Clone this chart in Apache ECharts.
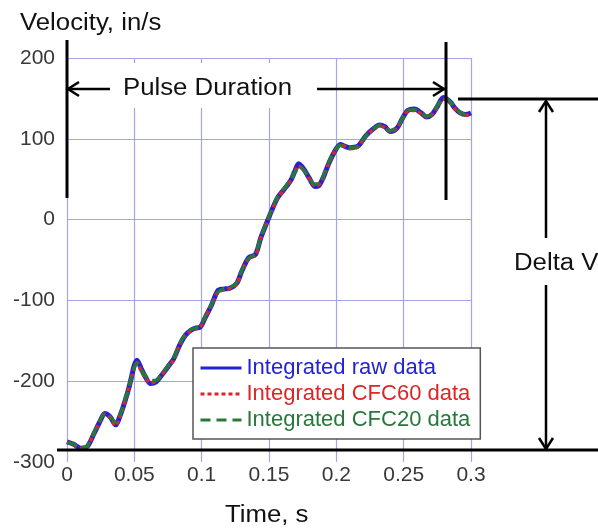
<!DOCTYPE html>
<html>
<head>
<meta charset="utf-8">
<script src="https://cdn.jsdelivr.net/npm/echarts@6/dist/echarts.min.js"></script>
<style>
 html, body { margin: 0; padding: 0; background: #fff; }
 .echart { width: 598px; height: 531px; }
</style>
</head>
<body>
<div class="echart" id="velocity-chart"></div>
<script>
// time, s
const timeS = [0, 0.005, 0.010, 0.015, 0.020, 0.025, 0.028, 0.032, 0.036, 0.040,
 0.043, 0.046, 0.048, 0.050, 0.052, 0.055, 0.058, 0.062, 0.066, 0.071,
 0.075, 0.079, 0.084, 0.088, 0.092, 0.096, 0.099, 0.103, 0.107, 0.112,
 0.116, 0.121, 0.126, 0.130, 0.135, 0.140, 0.144, 0.150, 0.156, 0.161,
 0.166, 0.169, 0.172, 0.176, 0.180, 0.184, 0.187, 0.190, 0.194, 0.198,
 0.203, 0.206, 0.210, 0.216, 0.222, 0.228, 0.232, 0.236, 0.240, 0.245,
 0.249, 0.253, 0.258, 0.263, 0.267, 0.271, 0.275, 0.2795, 0.282, 0.285,
 0.288, 0.292, 0.296, 0.300]

// velocity, in/s
const rawVel = [-275, -278, -283, -281, -265, -248, -240, -244, -254, -240,
 -225, -208, -194, -180, -174, -184, -194, -203, -201, -191,
 -182, -173, -154, -143, -137, -134, -133, -120, -107, -88,
 -86, -85, -79, -63, -47, -43, -22, 3, 26, 37,
 48, 59, 69, 62, 51, 41, 42, 51, 68, 82,
 93, 91, 89, 91, 104, 113, 117, 115, 109, 113,
 125, 135, 137, 132, 127, 130, 140, 151, 149, 145,
 138, 132, 130, 132]

const cfc60Vel = [-275, -279, -283, -281, -265, -248, -241, -245, -255, -241,
 -225, -208, -195, -183, -177, -187, -195, -202, -200, -191,
 -182, -174, -154, -143, -138, -135, -133, -120, -107, -90,
 -87, -85, -80, -63, -48, -44, -22, 3, 25, 37,
 48, 58, 66, 61, 50, 42, 43, 51, 68, 82,
 92, 91, 88, 90, 104, 112, 116, 114, 109, 113,
 125, 134, 135, 131, 127, 130, 140, 149, 148, 144,
 137, 132, 129, 131]

const cfc20Vel = [-276, -278, -282, -280, -264, -247, -240, -244, -251, -239,
 -224, -207, -194, -183, -178, -186, -193, -199, -199, -190,
 -181, -172, -153, -142, -136, -134, -132, -119, -106, -90,
 -86, -84, -78, -62, -48, -42, -21, 4, 27, 38,
 49, 58, 66, 61, 51, 44, 44, 52, 69, 83,
 92, 91, 89, 91, 104, 113, 117, 115, 110, 114,
 125, 135, 136, 132, 128, 131, 141, 149, 149, 145,
 138, 133, 130, 132]

const seriesNames = ['Integrated raw data', 'Integrated CFC60 data', 'Integrated CFC20 data']
const seriesColors = ['#2323d6', '#dc2626', '#27783a']

const xTicks = { min: 0, max: 0.3, interval: 0.05 }
const yTicks = { min: -300, max: 200, interval: 100 }

const pairs = (vals) => timeS.map((t, i) => [t, vals[i]])

const gridColor = '#a4a4ee'
const font = '"Liberation Sans", Arial, sans-serif'

const seg = (x1, y1, x2, y2, w) => ({
 type: 'line', z: 20,
 shape: { x1: x1, y1: y1, x2: x2, y2: y2 },
 style: { stroke: '#000', lineWidth: w || 3 }
})
const head = (pts) => ({
 type: 'polyline', z: 20,
 shape: { points: pts },
 style: { stroke: '#000', lineWidth: 2.5, fill: null }
})
const label = (txt, x, y) => ({
 type: 'text', z: 20, x: x, y: y, scaleX: 1.12,
 style: { text: txt, fill: '#111', fontSize: 23, fontFamily: font, verticalAlign: 'middle' }
})

const setOption = () => {
 return {
  animation: false,
  grid: { left: 67, right: 127, top: 58, bottom: 69 },
  xAxis: {
   type: 'value',
   min: xTicks.min, max: xTicks.max, interval: xTicks.interval,
   axisLine: { show: false },
   axisTick: { show: false },
   axisLabel: { margin: 3, fontSize: 21, color: '#383838', fontFamily: font },
   splitLine: { show: true, lineStyle: { color: gridColor, width: 1.2 } }
  },
  yAxis: {
   type: 'value',
   min: yTicks.min, max: yTicks.max, interval: yTicks.interval,
   axisLine: { show: false },
   axisTick: { show: false },
   axisLabel: { margin: 12, fontSize: 21, color: '#383838', fontFamily: font },
   splitLine: {
    show: true,
    lineStyle: { color: ['rgba(0,0,0,0)', gridColor, gridColor, gridColor, gridColor, gridColor], width: 1.2 }
   }
  },
  legend: {
   orient: 'vertical',
   left: 193, top: 348,
   padding: [9, 10, 8, 6],
   itemWidth: 41, itemHeight: 14, itemGap: 4,
   backgroundColor: '#fff',
   borderColor: '#555', borderWidth: 1.5, borderRadius: 0,
   itemStyle: { opacity: 0 },
   lineStyle: { width: 3 },
   textStyle: { fontSize: 22, fontFamily: font, lineHeight: 22 },
   data: seriesNames.map((n, i) => ({ name: n, textStyle: { color: seriesColors[i] } }))
  },
  series: [
   {
    name: seriesNames[0], type: 'line', data: pairs(rawVel),
    symbol: 'none', smooth: 0.3, z: 2,
    lineStyle: { color: seriesColors[0], width: 5, type: 'solid' },
    itemStyle: { color: seriesColors[0] }
   },
   {
    name: seriesNames[1], type: 'line', data: pairs(cfc60Vel),
    symbol: 'none', smooth: 0.3, z: 3,
    lineStyle: { color: seriesColors[1], width: 3.5, type: [4, 3] },
    itemStyle: { color: seriesColors[1] }
   },
   {
    name: seriesNames[2], type: 'line', data: pairs(cfc20Vel),
    symbol: 'none', smooth: 0.3, z: 4,
    lineStyle: { color: seriesColors[2], width: 3.5, type: [10, 6] },
    itemStyle: { color: seriesColors[2] }
   }
  ],
  graphic: {
   elements: [
    // white band behind the pulse duration label
    { type: 'rect', z: 5, shape: { x: 62, y: 63, width: 250, height: 45 }, style: { fill: '#fff' } },
    label('Velocity, in/s', 20, 24),
    label('Time, s', 225, 516),
    label('Pulse Duration', 123, 89),
    label('Delta V', 514, 264),
    // pulse duration
    seg(67, 40, 67, 198),
    seg(446, 42, 446, 200),
    seg(67, 89, 110, 89, 2.5),
    head([[79, 82], [68, 89], [79, 96]]),
    seg(317, 89, 445, 89, 2.5),
    head([[433, 82], [444, 89], [433, 96]]),
    // delta v
    seg(458, 99, 598, 99),
    seg(57, 450, 598, 450),
    seg(546, 101, 546, 238, 2.5),
    seg(546, 285, 546, 449, 2.5),
    head([[539, 112], [546, 101], [553, 112]]),
    head([[539, 438], [546, 449], [553, 438]])
   ]
  }
 }
}

let myGlobChart = void (0)
const initChart = () => {
 const chartDom = document.getElementById('velocity-chart')
 if (chartDom) {
  const myChart = echarts.init(chartDom, null, { renderer: 'canvas' })
  myChart.setOption(setOption(), true)
  myGlobChart = myChart
 }
}
initChart()
</script>
</body>
</html>
